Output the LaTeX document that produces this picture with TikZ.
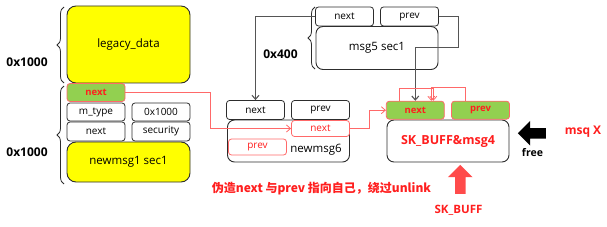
\documentclass[tikz,border=0pt]{standalone}
\usepackage{fontspec}
\setmainfont{Open Sans}
\newfontfamily\cjk{Noto Sans CJK SC}
\usepackage{tikz}
\usetikzlibrary{arrows.meta,positioning,decorations.pathreplacing,shapes.arrows}
\definecolor{boxgray}{RGB}{45,45,45}
\definecolor{linegray}{RGB}{85,85,85}
\definecolor{red2}{RGB}{255,30,30}
\definecolor{lightred}{RGB}{255,105,105}
\definecolor{green2}{RGB}{146,208,80}
\definecolor{yellow2}{RGB}{255,255,0}
\tikzset{
  cellbox/.style={draw=boxgray, line width=0.8pt, rounded corners=3pt, fill=white,
    minimum width=58pt, minimum height=19pt, inner sep=0pt, font=\fontsize{10}{12}\selectfont},
  greencell/.style={cellbox, fill=green2, draw=lightred, text=red2,
    minimum height=18pt, font=\fontsize{9.5}{12}\selectfont\bfseries},
  redcell/.style={cellbox, draw=lightred, text=red2, minimum height=16pt},
  databox/.style={draw=boxgray, line width=0.9pt, rounded corners=9pt, fill=yellow2, inner sep=0pt,
    font=\fontsize{11.5}{14}\selectfont},
  msgbox/.style={draw=boxgray, line width=0.9pt, rounded corners=7pt, fill=white, inner sep=0pt,
    font=\fontsize{11.5}{14}\selectfont},
  sizebrace/.style={decorate, decoration={brace, amplitude=7pt}, draw=boxgray, line width=0.8pt},
  sizelabel/.style={font=\fontsize{12}{14}\selectfont\bfseries},
  link/.style={-{Straight Barb[length=4pt,width=7pt]}, draw=linegray, line width=1.1pt},
  redlink/.style={-{Straight Barb[length=4pt,width=7pt]}, draw=lightred, line width=0.8pt},
  redtext/.style={text=red2, font=\fontsize{11.5}{13}\selectfont\bfseries}
}

\begin{document}
\begin{tikzpicture}[x=1pt,y=-1pt]
\useasboundingbox (0,0) rectangle (607,227);
% left block
\node[databox, minimum width=123pt, minimum height=77pt] (legacy) at (128.5,44.5) {legacy\_data};
\node[greencell] (lnext) at (96,92.5) {next};
\node[cellbox, minimum height=18pt] (mtype) at (96,112) {m\_type};
\node[cellbox, minimum height=18pt] (msize) at (161,112) {0x1000};
\node[cellbox] (mnext) at (96,131.5) {next};
\node[cellbox] (msec) at (161,131.5) {security};
\node[databox, minimum width=123pt, minimum height=40pt] (newmsg1) at (128.5,162) {newmsg1 sec1};
\draw[sizebrace] (64,83) -- (64,7);
\draw[sizebrace] (64,184) -- (64,86);
\node[sizelabel] (size1) at (27,62) {0x1000};
\node[sizelabel] (size2) at (27,152) {0x1000};

% newmsg6
\node[msgbox, minimum width=122pt, minimum height=42pt] (m6box) at (288.5,141) {};
\node[cellbox] (m6next) at (255.5,110) {next};
\node[cellbox] (m6prev) at (320.5,110) {prev};
\node[redcell] (m6rnext) at (320.5,128.5) {next};
\node[redcell] (m6rprev) at (257.5,147) {prev};
\node[font=\fontsize{11.5}{14}\selectfont] (m6label) at (316,150) {newmsg6};

% msg5
\node[msgbox, minimum width=122pt, minimum height=43pt] (m5box) at (377,48) {msg5 sec1};
\node[cellbox] (m5next) at (344.5,16.5) {next};
\node[cellbox] (m5prev) at (409.5,16.5) {prev};
\draw[sizebrace] (315,69) -- (315,7);
\node[sizelabel] (size3) at (280.5,54) {0x400};

% SK_BUFF
\node[msgbox, minimum width=122pt, minimum height=42pt, redtext, font=\fontsize{12.5}{14}\selectfont\bfseries] (skbox) at (448,141) {SK\_BUFF\&msg4};
\node[greencell] (sknext) at (415.3,110.2) {next};
\node[greencell] (skprev) at (480.5,110.2) {prev};
\node[single arrow, fill=black, shape border rotate=180, inner sep=5pt,
  minimum height=28pt, minimum width=20pt] (freearrow) at (534.5,133.3) {};
\node[font=\fontsize{10.5}{12}\selectfont\bfseries] (freelabel) at (532.5,153) {free};
\node[redtext, font=\fontsize{12}{14}\selectfont\bfseries] (msqx) at (583,132) {msq X};
\node[single arrow, fill=red2!80, shape border rotate=90, inner sep=5pt,
  minimum height=29pt, minimum width=21pt] (skarrow) at (460.3,182) {};
\node[redtext] (sklabel) at (458.5,210) {SK\_BUFF};
\node[text=red2, font=\cjk\fontsize{12}{14}\selectfont\bfseries] (note) at (321.5,189) {伪造next 与prev 指向自己，绕过unlink};

\draw[redlink] (lnext.east) -- ++(85,0) |- (m6rnext.west);
\draw[redlink] (m6rnext.east) -- ++(19,0) |- (sknext.west);
\draw[link] (m5next.west) -| (m6next.north);
\draw[link] (m5prev.east) -- ++(20,0) -- ++(0,31) -| (sknext.north);
\draw[redlink] ([xshift=-16pt]sknext.north) -- ++(0,-12) -| ([xshift=18pt]sknext.north);
\draw[redlink] ([xshift=-15pt]skprev.north) -- ++(0,-13) -| ([xshift=16pt]sknext.north);
\end{tikzpicture}
\end{document}
